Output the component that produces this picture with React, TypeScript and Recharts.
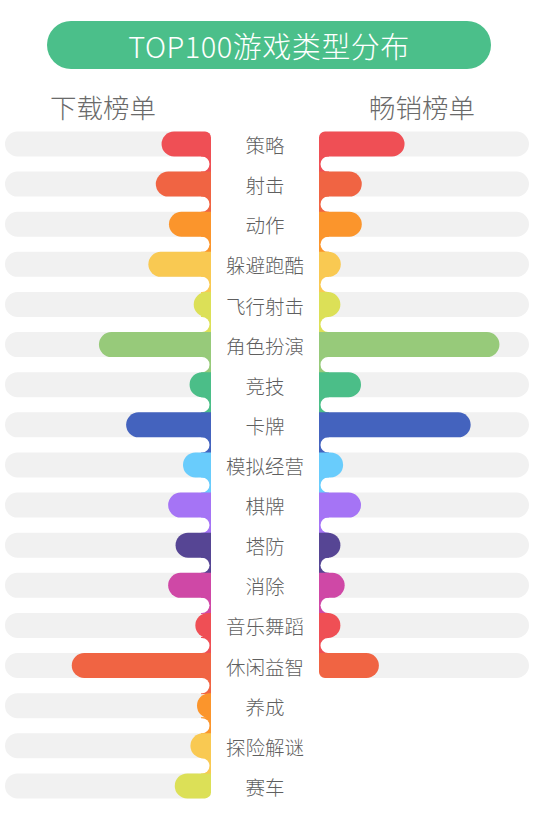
import React from 'react';
import { BarChart, Bar, XAxis, YAxis } from 'recharts';

// categories, top to bottom
const CATEGORIES = [
  '策略', '射击', '动作', '躲避跑酷', '飞行射击', '角色扮演', '竞技', '卡牌', '模拟经营',
  '棋牌', '塔防', '消除', '音乐舞蹈', '休闲益智', '养成', '探险解谜', '赛车',
];
// 下载榜单 (share of top 100)
const DOWNLOAD = [6.0, 6.7, 5.1, 7.6, 2.1, 13.6, 2.6, 10.3, 3.4, 5.2, 4.3, 5.2, 1.9, 16.9, 1.7, 2.5, 4.4];
// 畅销榜单 (only the first 14 categories appear)
const SALES = [11, 5.5, 5.5, 2.8, 2.75, 23.2, 5.4, 19.5, 3.1, 5.4, 2.75, 3.3, 2.75, 7.7];
const DOWNLOAD_MAX = 25;
const SALES_MAX = 27;

const COLORS = [
  '#EF4F55', '#F06443', '#FB952C', '#F9C952', '#DCE057', '#97CA7A',
  '#4BBE88', '#4463BE', '#69CCFC', '#A574F5', '#564594', '#CF48A6',
];

const FONT = '"Noto Sans CJK SC", "Noto Sans", sans-serif';
const TRACK = '#F1F1F1';

const TOP = 123.5;
const PLOT_H = 682;
const BAND = PLOT_H / CATEGORIES.length;
const BAR_H = 25;
const LEFT_W = 319;
const LABEL_W = 108;
const RIGHT_W = 210;

const downloadData = CATEGORIES.map((name, i) => ({ name, value: DOWNLOAD[i] }));
const salesData = SALES.map((value, i) => ({ name: CATEGORIES[i], value }));

function makeShape(side: 'left' | 'right', count: number) {
  return (props: any) => {
    const { x, y, width, height, index } = props;
    const fill = COLORS[index % COLORS.length];
    const x0 = Math.min(x, x + width);
    const x1 = Math.max(x, x + width);
    const w = x1 - x0;
    const h = height;
    const inner = side === 'left' ? x1 : x0;
    const sx = side === 'left' ? -1 : 1;
    const px = (d: number) => inner + sx * d;
    const S = side === 'left' ? 0 : 1;
    const r = h / 2;
    const cr = 6;
    const first = index === 0;
    const last = index === count - 1;

    let d = `M ${px(first ? cr : 0)} ${y} L ${px(Math.max(w - r, 0))} ${y} `;
    d += `A ${r} ${r} 0 0 ${S} ${px(Math.max(w - r, 0))} ${y + h} `;
    d += `L ${px(last ? cr : 0)} ${y + h} `;
    if (last) d += `A ${cr} ${cr} 0 0 ${S} ${px(0)} ${y + h - cr} `;
    d += `L ${px(0)} ${y + (first ? cr : 0)} `;
    if (first) d += `A ${cr} ${cr} 0 0 ${S} ${px(cr)} ${y} `;
    d += 'Z';

    // thin coloured spine joining this row to the next one
    const g = BAND - h;
    const t = 1.5;
    const sw = 10;
    const spine = !last ? (
      <>
        <rect
          x={Math.min(px(0), px(sw))}
          y={y + h - 1}
          width={sw}
          height={g + 2}
          fill={fill}
        />
        <path
          d={`M ${px(sw + 3)} ${y + h} L ${px(t + g / 2)} ${y + h} A ${g / 2} ${g / 2} 0 0 ${1 - S} ${px(t + g / 2)} ${y + h + g} L ${px(sw + 3)} ${y + h + g} Z`}
          fill="#fff"
        />
      </>
    ) : null;

    return (
      <g>
        {spine}
        <path d={d} fill={fill} />
      </g>
    );
  };
}

const CategoryTick = (props: any) => {
  const { y, payload } = props;
  return (
    <text
      x={LEFT_W - LABEL_W / 2}
      y={y + 1}
      textAnchor="middle"
      dominantBaseline="central"
      fontSize={19.5}
      fontWeight={300}
      fill="#5f5f5f"
      fontFamily={FONT}
    >
      {payload.value}
    </text>
  );
};

export default function App() {
  const rightH = TOP + SALES.length * BAND;
  return (
    <div
      style={{
        position: 'absolute',
        left: 0,
        top: 0,
        width: 536,
        height: 819,
        background: '#fff',
        fontFamily: FONT,
      }}
    >
      <div
        style={{
          position: 'absolute',
          left: 47,
          top: 21,
          width: 444,
          height: 48,
          borderRadius: 24,
          background: '#4BBF8A',
          color: '#fff',
          fontSize: 29,
          fontWeight: 300,
          lineHeight: '48px',
          textAlign: 'center',
          letterSpacing: 0.5,
        }}
      >
        TOP100游戏类型分布
      </div>
      <div style={{ position: 'absolute', left: 50, top: 90, fontSize: 26.5, lineHeight: '34px', color: '#6a6a6a', fontWeight: 300 }}>
        下载榜单
      </div>
      <div style={{ position: 'absolute', left: 369, top: 90, fontSize: 26.5, lineHeight: '34px', color: '#6a6a6a', fontWeight: 300 }}>
        畅销榜单
      </div>

      <div style={{ position: 'absolute', left: 0, top: 0 }}>
        <BarChart
          width={LEFT_W}
          height={819}
          data={downloadData}
          layout="vertical"
          margin={{ top: TOP, right: 0, bottom: 819 - TOP - PLOT_H, left: 5 }}
          barSize={BAR_H}
        >
          <XAxis type="number" domain={[0, DOWNLOAD_MAX]} reversed hide />
          <YAxis
            type="category"
            dataKey="name"
            orientation="right"
            width={LABEL_W}
            axisLine={false}
            tickLine={false}
            interval={0}
            tick={CategoryTick}
          />
          <Bar
            dataKey="value"
            isAnimationActive={false}
            background={{ fill: TRACK, radius: BAR_H / 2 }}
            shape={makeShape('left', DOWNLOAD.length)}
          />
        </BarChart>
      </div>

      <div style={{ position: 'absolute', left: LEFT_W, top: 0 }}>
        <BarChart
          width={RIGHT_W}
          height={Math.ceil(rightH)}
          data={salesData}
          layout="vertical"
          margin={{ top: TOP, right: 0, bottom: Math.ceil(rightH) - rightH, left: 0 }}
          barSize={BAR_H}
        >
          <XAxis type="number" domain={[0, SALES_MAX]} hide />
          <YAxis type="category" dataKey="name" hide />
          <Bar
            dataKey="value"
            isAnimationActive={false}
            background={{ fill: TRACK, radius: BAR_H / 2 }}
            shape={makeShape('right', SALES.length)}
          />
        </BarChart>
      </div>
    </div>
  );
}
